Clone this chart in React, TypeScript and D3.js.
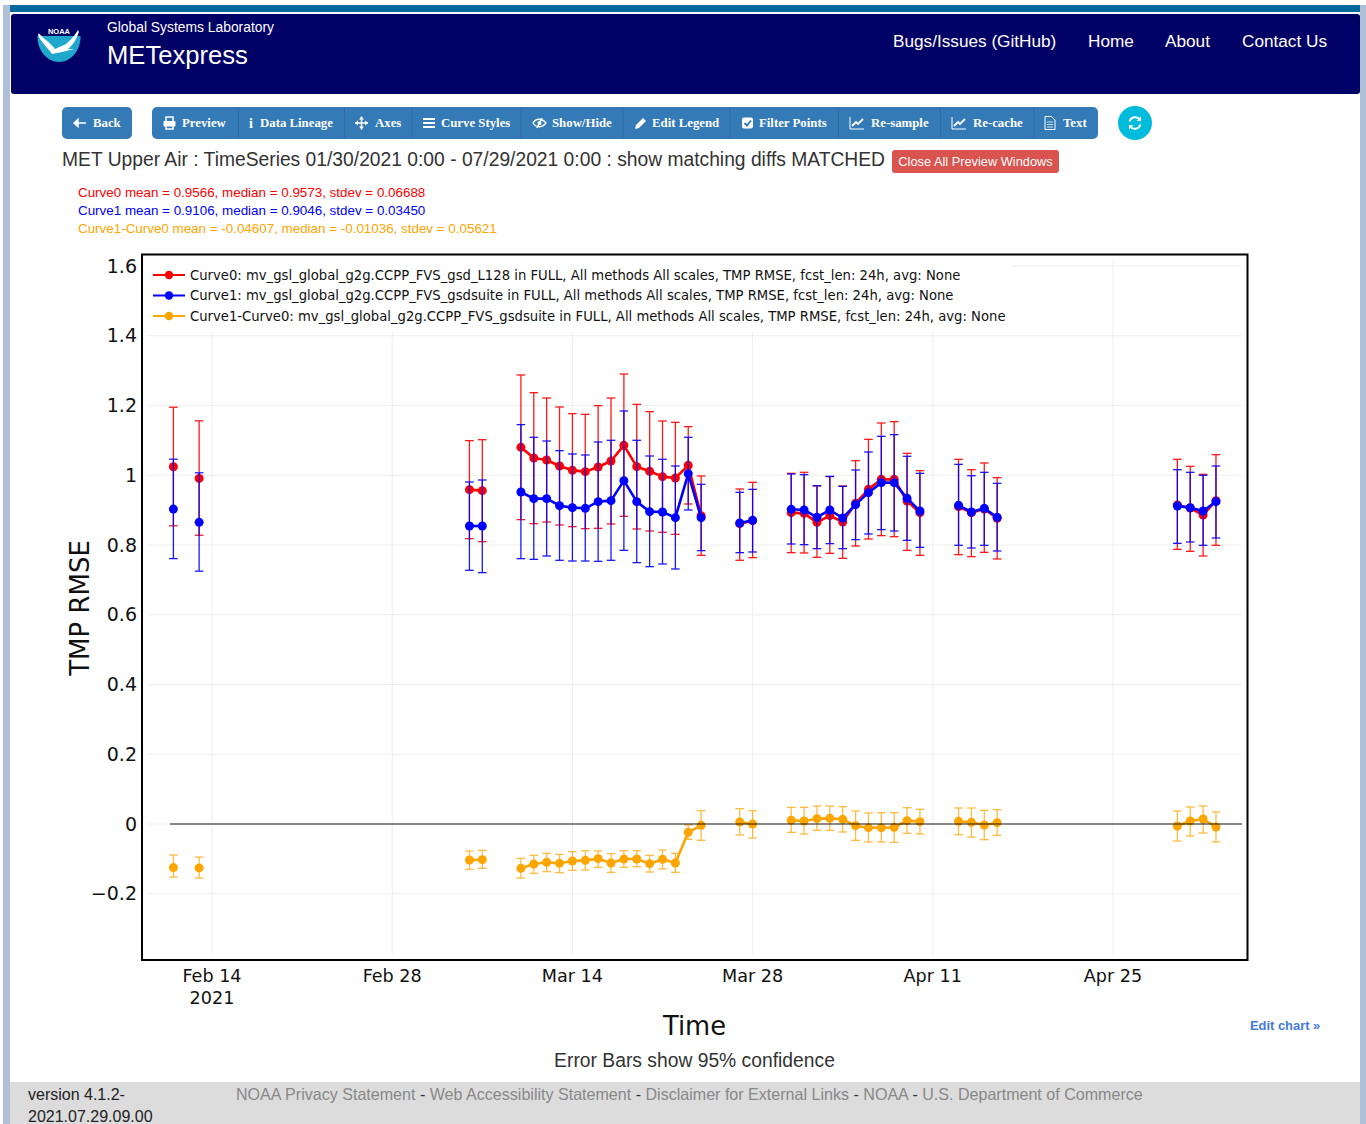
import React from "react";
import * as d3 from "d3";

// ---------- data ----------
const dates = [
  "2021-02-11","2021-02-13","2021-03-06","2021-03-07",
  "2021-03-10","2021-03-11","2021-03-12","2021-03-13","2021-03-14","2021-03-15","2021-03-16","2021-03-17",
  "2021-03-18","2021-03-19","2021-03-20","2021-03-21","2021-03-22","2021-03-23","2021-03-24",
  "2021-03-27","2021-03-28",
  "2021-03-31","2021-04-01","2021-04-02","2021-04-03","2021-04-04","2021-04-05","2021-04-06","2021-04-07","2021-04-08","2021-04-09","2021-04-10",
  "2021-04-13","2021-04-14","2021-04-15","2021-04-16",
  "2021-04-30","2021-05-01","2021-05-02","2021-05-03",
];
const curve0Mean = [1.0245,0.991,0.9587,0.9558,
  1.08,1.0495,1.0437,1.0265,1.0141,1.0103,1.0237,1.0409,1.0858,1.0246,1.0113,0.996,0.9921,1.0285,0.8841,
  0.8612,0.8698,
  0.8927,0.8908,0.865,0.8841,0.866,0.9195,0.9596,0.9883,0.9883,0.9262,0.8927,
  0.9099,0.8927,0.9033,0.8765,
  0.9147,0.9061,0.886,0.9271];
const curve0Hi = [1.195,1.156,1.0992,1.102,
  1.2875,1.2368,1.2215,1.1957,1.1766,1.1747,1.1995,1.2215,1.2903,1.2033,1.1823,1.1556,1.1517,1.1393,0.9979,
  0.9606,0.9797,
  1.0055,1.0084,0.9692,0.996,0.9692,1.0418,1.103,1.1499,1.1537,1.0629,1.0132,
  1.0457,1.016,1.0352,0.9931,
  1.0457,1.0256,1.0027,1.059];
const curve0Lo = [0.855,0.828,0.8182,0.8096,
  0.8727,0.8612,0.866,0.8574,0.8526,0.8469,0.8478,0.8602,0.8822,0.8459,0.8402,0.8364,0.8306,0.9176,0.7704,
  0.7561,0.7637,
  0.778,0.7771,0.7647,0.7761,0.7618,0.7972,0.8172,0.8268,0.8239,0.7847,0.7704,
  0.7723,0.7666,0.779,0.7599,
  0.7876,0.7819,0.7685,0.7991];
const curve1Mean = [0.903,0.865,0.8545,0.8545,
  0.952,0.9329,0.9329,0.9128,0.9071,0.9052,0.9243,0.9272,0.9845,0.9243,0.8956,0.8947,0.8784,1.0046,0.8784,
  0.8631,0.8708,
  0.9023,0.9004,0.8794,0.9004,0.8774,0.9157,0.9501,0.9788,0.9788,0.9338,0.8975,
  0.9138,0.8947,0.9052,0.8794,
  0.9119,0.9071,0.8975,0.9243];
const curve1Hi = [1.046,1.007,0.9807,0.9864,
  1.1451,1.1088,1.0982,1.0705,1.061,1.0581,1.0954,1.1002,1.1843,1.1002,1.0552,1.0457,1.0265,1.1088,0.974,
  0.951,0.9596,
  1.0036,1.0017,0.9702,0.9969,0.9682,1.0151,1.0667,1.1116,1.1164,1.0543,1.0055,
  1.0313,0.9988,1.0084,0.9769,
  1.016,1.0084,0.9998,1.0265];
const curve1Lo = [0.761,0.725,0.7274,0.7207,
  0.7608,0.7589,0.7685,0.7561,0.7541,0.7541,0.7532,0.7561,0.7847,0.7494,0.7379,0.7456,0.7312,0.9004,0.7838,
  0.778,0.78,
  0.8029,0.801,0.7895,0.8039,0.7895,0.8153,0.8316,0.844,0.8402,0.8134,0.7933,
  0.7991,0.7914,0.7991,0.7828,
  0.8048,0.8086,0.7991,0.8201];
const diffMean = [-0.125,-0.126,-0.1032,-0.1023,
  -0.1271,-0.1147,-0.1099,-0.1128,-0.1061,-0.1042,-0.0994,-0.1118,-0.1004,-0.1004,-0.1137,-0.1013,-0.1118,-0.0239,-0.0038,
  0.0057,0,
  0.0105,0.0086,0.0153,0.0162,0.0134,-0.0048,-0.0105,-0.0105,-0.0096,0.0096,0.0067,
  0.0076,0.0048,-0.0029,0.0038,
  -0.0057,0.0086,0.0143,-0.0086];
const diffHi = [-0.089,-0.095,-0.0774,-0.0755,
  -0.0984,-0.0898,-0.0841,-0.087,-0.0793,-0.0765,-0.0774,-0.0851,-0.0765,-0.0765,-0.0898,-0.0746,-0.0841,-0.0029,0.0382,
  0.044,0.0382,
  0.0478,0.0478,0.0516,0.0516,0.0497,0.0373,0.0315,0.0325,0.0325,0.0468,0.0421,
  0.0459,0.0459,0.0392,0.0411,
  0.0373,0.0487,0.0516,0.0344];
const diffLo = [-0.152,-0.155,-0.13,-0.1271,
  -0.1548,-0.1415,-0.1367,-0.1396,-0.1329,-0.1319,-0.1243,-0.1386,-0.1243,-0.1223,-0.1376,-0.129,-0.1386,-0.044,-0.0468,
  -0.0315,-0.0401,
  -0.0239,-0.0287,-0.0182,-0.0182,-0.0229,-0.0468,-0.0516,-0.0516,-0.0526,-0.0268,-0.0287,
  -0.0306,-0.0373,-0.0449,-0.0325,
  -0.0487,-0.0344,-0.0258,-0.0516];

const curveNames = [
  "Curve0: mv_gsl_global_g2g.CCPP_FVS_gsd_L128 in FULL, All methods All scales, TMP RMSE, fcst_len: 24h, avg: None",
  "Curve1: mv_gsl_global_g2g.CCPP_FVS_gsdsuite in FULL, All methods All scales, TMP RMSE, fcst_len: 24h, avg: None",
  "Curve1-Curve0: mv_gsl_global_g2g.CCPP_FVS_gsdsuite in FULL, All methods All scales, TMP RMSE, fcst_len: 24h, avg: None",
];
const curveColors = ["#ff0000", "#0000ff", "#ffa500"];
const statLines = [
  "Curve0 mean = 0.9566, median = 0.9573, stdev = 0.06688",
  "Curve1 mean = 0.9106, median = 0.9046, stdev = 0.03450",
  "Curve1-Curve0 mean = -0.04607, median = -0.01036, stdev = 0.05621",
];
const yTicks = [-0.2, 0, 0.2, 0.4, 0.6, 0.8, 1, 1.2, 1.4, 1.6];
const xTicks = ["2021-02-14","2021-02-28","2021-03-14","2021-03-28","2021-04-11","2021-04-25"];
const xTickLabels = ["Feb 14","Feb 28","Mar 14","Mar 28","Apr 11","Apr 25"];

// ---------- scales ----------
const parse = d3.utcParse("%Y-%m-%d");
const x = d3.scaleUtc().domain([parse("2021-02-14")!, parse("2021-04-25")!]).range([212, 1113]);
const y = d3.scaleLinear().domain([-0.2, 1.6]).range([893.75, 266]);

const series = [
  { mean: curve0Mean, hi: curve0Hi, lo: curve0Lo, color: curveColors[0] },
  { mean: curve1Mean, hi: curve1Hi, lo: curve1Lo, color: curveColors[1] },
  { mean: diffMean, hi: diffHi, lo: diffLo, color: curveColors[2] },
];

const DAY = 86400000;
const times = dates.map((d) => parse(d)!);
const segments: number[][] = [];
times.forEach((t, i) => {
  if (i > 0 && +t - +times[i - 1] === DAY) segments[segments.length - 1].push(i);
  else segments.push([i]);
});

const SANS = "'Liberation Sans', Arial, sans-serif";
const SERIF = "'Liberation Serif', serif";
const PLOT = "'DejaVu Sans', Verdana, sans-serif";

function Icon({ kind, at }: { kind: string; at: number }) {
  const t = `translate(${at},123)`;
  const common = { fill: "none", stroke: "#fff", strokeWidth: 1.5 };
  switch (kind) {
    case "back":
      return <g transform={t}><path d="M0 0H12M0 0L4 -3.5V3.5Z" {...common} fill="#fff" /></g>;
    case "print":
      return <g transform={t}><path d="M3 -2V-6H10V-2M3 3V6H10V3" {...common} /><rect x="0.5" y="-2" width="12" height="5.5" rx="1" fill="#fff" /></g>;
    case "info":
      return <text x={at} y="127.5" fill="#fff" textAnchor="middle" fontFamily={SERIF} fontWeight="700" fontSize="14">i</text>;
    case "move":
      return <g transform={t}><path d="M0 0H13M6.5 -6.5V6.5" {...common} /><path d="M0 0L3 -2.5V2.5ZM13 0L10 -2.5V2.5ZM6.5 -6.5L4 -3.5H9ZM6.5 6.5L4 3.5H9Z" fill="#fff" /></g>;
    case "bars":
      return <g transform={t}><path d="M0 -4H12M0 0H12M0 4H12" {...common} strokeWidth={1.8} /></g>;
    case "eye":
      return <g transform={t}><path d="M0 0C3 -5 9 -5 13 0C9 5 3 5 0 0Z" {...common} strokeWidth={1.3} /><path d="M4 5L9 -5" {...common} /><circle cx="6.5" cy="0" r="2" fill="#fff" /></g>;
    case "pencil":
      return <g transform={t}><path d="M0 6L1 2L8 -5L11 -2L4 5Z" fill="#fff" /></g>;
    case "check":
      return <g transform={t}><rect x="0" y="-5.5" width="11" height="11" rx="2" fill="#fff" /><path d="M2.5 0L5 2.5L9 -2.5" fill="none" stroke="#337ab7" strokeWidth="2" /></g>;
    case "chart":
      return <g transform={t}><path d="M0 -6V6H14" {...common} strokeWidth={1} /><path d="M2 3L6 -1L8 1L13 -4" {...common} strokeWidth={1.8} /></g>;
    case "file":
      return <g transform={t}><path d="M0 -6.5H6.5L10 -3V6.5H0Z" {...common} strokeWidth={1} /><path d="M2 -1H8M2 1.5H8M2 4H8" {...common} strokeWidth={0.8} /></g>;
    default:
      return null;
  }
}

const buttons = [
  { label: "Preview", tx: 182, icon: "print", ix: 163 },
  { label: "Data Lineage", tx: 260, icon: "info", ix: 251 },
  { label: "Axes", tx: 375, icon: "move", ix: 355 },
  { label: "Curve Styles", tx: 441, icon: "bars", ix: 423 },
  { label: "Show/Hide", tx: 552, icon: "eye", ix: 533 },
  { label: "Edit Legend", tx: 652, icon: "pencil", ix: 635 },
  { label: "Filter Points", tx: 759, icon: "check", ix: 742 },
  { label: "Re-sample", tx: 871, icon: "chart", ix: 850 },
  { label: "Re-cache", tx: 973, icon: "chart", ix: 952 },
  { label: "Text", tx: 1063, icon: "file", ix: 1045 },
];
const separators = [238.5, 344.5, 412, 521, 623, 730, 838.5, 940.5, 1034];

export default function App() {
  return (
    <svg width={1366} height={1124} style={{ position: "absolute", left: 0, top: 0, display: "block" }}>
      <rect width={1366} height={1124} fill="#fff" />
      {/* page edges */}
      <rect x={3} y={5} width={7} height={1119} fill="#aebfd6" />
      <rect x={1360} y={5} width={6} height={1119} fill="#aebfd6" />
      <rect x={10} y={5} width={1350} height={7} fill="#006a9e" />
      {/* header */}
      <rect x={11} y={14} width={1349} height={80} rx={3} fill="#000066" />
      <g>
        <clipPath id="logoClip"><circle cx={59} cy={40} r={21.5} /></clipPath>
        <path d="M37.5 36H80.5C81 50 71 62 59 62C47 62 37 50 37.5 36Z" fill="#1fa8cc" />
        <path d="M37 31C42 38 50 42 55 49L66 44C72 39 77 33 80 26C79 36 74 44 68 49L74 49L62 52L52 54C46 45 38 40 37 31Z" fill="#fff" clipPath="url(#logoClip)" />
        <text x={59} y={34} textAnchor="middle" fontFamily={SANS} fontWeight="700" fontSize={7.5} fill="#fff">NOAA</text>
      </g>
      <text x={107} y={32} fontFamily={SANS} fontSize={13.85} fill="#fff">Global Systems Laboratory</text>
      <text x={107} y={64} fontFamily={SANS} fontSize={25.6} fill="#fff">METexpress</text>
      {[["Bugs/Issues (GitHub)", 893], ["Home", 1088], ["About", 1165], ["Contact Us", 1242]].map(([s, px]) => (
        <text key={s as string} x={px as number} y={47} fontFamily={SANS} fontSize={17.2} fill="#fff">{s}</text>
      ))}

      {/* toolbar */}
      <rect x={62} y={107} width={70} height={32} rx={5} fill="#337ab7" />
      <Icon kind="back" at={74} />
      <text x={93} y={127} fontFamily={SERIF} fontWeight="700" fontSize={12.8} fill="#fff">Back</text>
      <rect x={152} y={107} width={946} height={32} rx={5} fill="#337ab7" />
      {separators.map((s) => <line key={s} x1={s} x2={s} y1={107} y2={139} stroke="#2e6da4" />)}
      {buttons.map((b) => (
        <g key={b.label}>
          <Icon kind={b.icon} at={b.ix} />
          <text x={b.tx} y={127} fontFamily={SERIF} fontWeight="700" fontSize={12.8} fill="#fff">{b.label}</text>
        </g>
      ))}
      <circle cx={1135} cy={123} r={17} fill="#00bcdc" />
      <path d="M1129.5 121.5A6 6 0 0 1 1140 119.5M1140.5 124.5A6 6 0 0 1 1130 126.5" fill="none" stroke="#fff" strokeWidth={2} />
      <path d="M1141 116.5V121H1136.5ZM1129 129.5V125H1133.5Z" fill="#fff" />

      <text x={62} y={166} fontFamily={SANS} fontSize={19.4} fill="#333" textLength={823} lengthAdjust="spacingAndGlyphs">MET Upper Air : TimeSeries 01/30/2021 0:00 - 07/29/2021 0:00 : show matching diffs MATCHED</text>
      <rect x={892} y={150} width={167} height={23} rx={3} fill="#d9534f" />
      <text x={975.5} y={166} textAnchor="middle" fontFamily={SANS} fontSize={12.8} fill="#fff">Close All Preview Windows</text>
      {statLines.map((s, i) => (
        <text key={s} x={78} y={[196.5, 215, 233][i]} fontFamily={SANS} fontSize={13.4} fill={curveColors[i]}>{s}</text>
      ))}

      {/* grid */}
      <g stroke="#eeeeee" strokeWidth={1}>
        {yTicks.map((t) => <line key={t} x1={147} x2={1242} y1={y(t)} y2={y(t)} />)}
        {xTicks.map((t) => <line key={t} x1={x(parse(t)!)} x2={x(parse(t)!)} y1={260} y2={955} />)}
      </g>
      <rect x={148} y={257} width={863} height={75} fill="#fff" />

      {/* traces */}
      {series.map((s, si) => {
        const path = d3.line<number>().x((i) => x(times[i])).y((i) => y(s.mean[i]));
        return (
          <g key={si}>
            <g stroke={s.color} strokeWidth={1.3} opacity={si === 2 ? 0.75 : 0.9}>
              {times.map((t, i) => {
                const px = x(t);
                return (
                  <g key={i}>
                    <line x1={px} x2={px} y1={y(s.hi[i])} y2={y(s.lo[i])} />
                    <line x1={px - 4.3} x2={px + 4.3} y1={y(s.hi[i])} y2={y(s.hi[i])} />
                    <line x1={px - 4.3} x2={px + 4.3} y1={y(s.lo[i])} y2={y(s.lo[i])} />
                  </g>
                );
              })}
            </g>
            {segments.filter((g) => g.length > 1).map((g, gi) => (
              <path key={gi} d={path(g)!} fill="none" stroke={s.color} strokeWidth={2.6} strokeLinejoin="round" />
            ))}
            {times.map((t, i) => (
              <circle key={i} cx={x(t)} cy={y(s.mean[i])} r={4.5} fill={s.color} />
            ))}
          </g>
        );
      })}
      <line x1={170} x2={1242} y1={y(0)} y2={y(0)} stroke="#000" strokeOpacity={0.6} strokeWidth={1.5} />

      {/* frame */}
      <rect x={142} y={254.5} width={1105.5} height={705.5} fill="none" stroke="#000" strokeWidth={2} />

      {/* legend */}
      {curveNames.map((n, i) => {
        const ly = [275, 295.5, 316][i];
        return (
          <g key={n}>
            <line x1={153} x2={185} y1={ly} y2={ly} stroke={curveColors[i]} strokeWidth={2} />
            <circle cx={169} cy={ly} r={4.2} fill={curveColors[i]} />
            <text x={190} y={ly + 4.5} fontFamily={PLOT} fontSize={13.2} fill="#111">{n}</text>
          </g>
        );
      })}

      {/* ticks */}
      {yTicks.map((t) => (
        <text key={t} x={137} y={y(t) + 6.5} textAnchor="end" fontFamily={PLOT} fontSize={19} fill="#111">
          {t < 0 ? "\u2212" + Math.abs(t) : String(t)}
        </text>
      ))}
      {xTicks.map((t, i) => (
        <text key={t} x={x(parse(t)!)} y={982} textAnchor="middle" fontFamily={PLOT} fontSize={17.6} fill="#111">{xTickLabels[i]}</text>
      ))}
      <text x={212} y={1004} textAnchor="middle" fontFamily={PLOT} fontSize={17.6} fill="#111">2021</text>

      <text transform="translate(89,608) rotate(-90)" textAnchor="middle" fontFamily={PLOT} fontSize={26} fill="#111">TMP RMSE</text>
      <text x={694.5} y={1035} textAnchor="middle" fontFamily={PLOT} fontSize={25.8} fill="#111">Time</text>
      <text x={1250} y={1030} fontFamily={SANS} fontWeight="700" fontSize={12.9} fill="#447adb">Edit chart »</text>
      <text x={694.5} y={1067} textAnchor="middle" fontFamily={SANS} fontSize={19.3} fill="#333">Error Bars show 95% confidence</text>

      {/* footer */}
      <rect x={10} y={1082} width={1350} height={42} fill="#dcdcdc" />
      <text x={28} y={1100} fontFamily={SANS} fontSize={16} fill="#222">version 4.1.2-</text>
      <text x={28} y={1122} fontFamily={SANS} fontSize={16} fill="#222">2021.07.29.09.00</text>
      <text x={236} y={1100} fontFamily={SANS} fontSize={16.07} fill="#888">
        NOAA Privacy Statement <tspan fill="#333">-</tspan> Web Accessibility Statement <tspan fill="#333">-</tspan> Disclaimer for External Links <tspan fill="#333">-</tspan> NOAA <tspan fill="#333">-</tspan> U.S. Department of Commerce
      </text>
    </svg>
  );
}
